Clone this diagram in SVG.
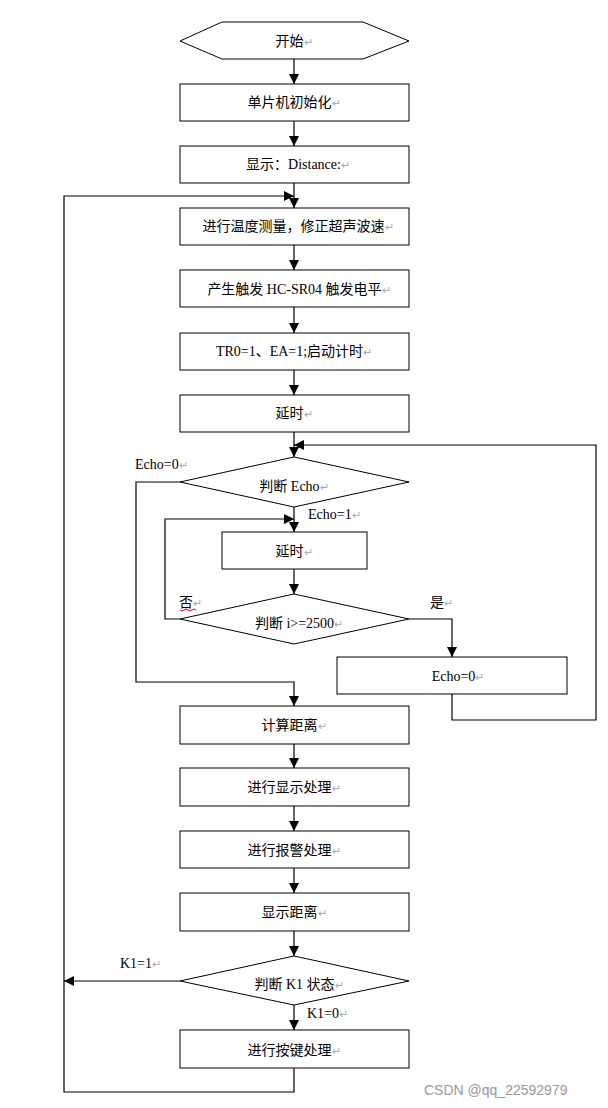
<svg xmlns="http://www.w3.org/2000/svg" width="608" height="1108" viewBox="0 0 608 1108">
<style>
.s{fill:#fff;stroke:#000;stroke-width:1}
.c{fill:none;stroke:#000;stroke-width:1.2}
.t{font-family:"Liberation Serif","Noto Sans CJK SC",serif;font-size:14px;fill:#000}
.m{text-anchor:middle}
.r{fill:#aaa;font-size:11px}
.w{font-family:"Liberation Sans",Arial,sans-serif;font-size:14px;fill:#999}
</style>
<defs>
<marker id="a" viewBox="0 0 10 10" refX="10" refY="5" markerWidth="10" markerHeight="10" markerUnits="userSpaceOnUse" orient="auto"><path d="M0,0 L10,5 L0,10 Z" fill="#000"/></marker>
</defs>
<rect width="608" height="1108" fill="#fff"/>
<g id="connectors">
<path class="c" d="M294,59 V84" marker-end="url(#a)"/>
<path class="c" d="M294,121 V146" marker-end="url(#a)"/>
<path class="c" d="M294,183 V208" marker-end="url(#a)"/>
<path class="c" d="M294,245 V270" marker-end="url(#a)"/>
<path class="c" d="M294,307 V333" marker-end="url(#a)"/>
<path class="c" d="M294,370 V395" marker-end="url(#a)"/>
<path class="c" d="M294,432 V457" marker-end="url(#a)"/>
<path class="c" d="M294,507 V532" marker-end="url(#a)"/>
<path class="c" d="M294,569 V594" marker-end="url(#a)"/>
<path class="c" d="M180,619 H165 V519 H294" marker-end="url(#a)"/>
<path class="c" d="M409,619 H452 V657" marker-end="url(#a)"/>
<path class="c" d="M452,694 V720 H596 V445 H294" marker-end="url(#a)"/>
<path class="c" d="M180,482 H136 V682 H294 V706" marker-end="url(#a)"/>
<path class="c" d="M294,744 V768" marker-end="url(#a)"/>
<path class="c" d="M294,806 V831" marker-end="url(#a)"/>
<path class="c" d="M294,868 V893" marker-end="url(#a)"/>
<path class="c" d="M294,931 V956" marker-end="url(#a)"/>
<path class="c" d="M180,981 H64" marker-end="url(#a)"/>
<path class="c" d="M294,1005 V1030" marker-end="url(#a)"/>
<path class="c" d="M294,1068 V1092 H64 V196 H294" marker-end="url(#a)"/>
</g>
<g id="start"><polygon class="s" points="180,41 222,22 363,22 409,41 363,59 222,59"/><text class="t m" x="294" y="46">开始<tspan class="r">↵</tspan></text></g>
<g id="init"><rect class="s" x="180" y="84" width="229" height="37"/><text class="t m" x="294" y="107">单片机初始化<tspan class="r">↵</tspan></text></g>
<g id="show"><rect class="s" x="180" y="146" width="229" height="37"/><text class="t m" x="298" y="169">显示：Distance:<tspan class="r">↵</tspan></text></g>
<g id="temp"><rect class="s" x="180" y="208" width="229" height="37"/><text class="t m" x="298" y="231">进行温度测量，修正超声波速<tspan class="r">↵</tspan></text></g>
<g id="trig"><rect class="s" x="180" y="270" width="229" height="37"/><text class="t m" x="299" y="294">产生触发 HC-SR04 触发电平<tspan class="r">↵</tspan></text></g>
<g id="tr0"><rect class="s" x="180" y="333" width="229" height="37"/><text class="t m" x="294" y="356">TR0=1、EA=1;启动计时<tspan class="r">↵</tspan></text></g>
<g id="delay1"><rect class="s" x="180" y="395" width="229" height="37"/><text class="t m" x="294" y="418">延时<tspan class="r">↵</tspan></text></g>
<g id="echo"><polygon class="s" points="294,457 409,482 294,507 180,482"/><text class="t m" x="294" y="491">判断 Echo<tspan class="r">↵</tspan></text></g>
<g id="delay2"><rect class="s" x="222" y="532" width="145" height="37"/><text class="t m" x="294" y="556">延时<tspan class="r">↵</tspan></text></g>
<g id="cnt"><polygon class="s" points="294,594 409,619 294,644 180,619"/><text class="t m" x="299" y="628">判断 i&gt;=2500<tspan class="r">↵</tspan></text></g>
<g id="echo0"><rect class="s" x="337" y="657" width="230" height="37"/><text class="t m" x="458" y="681">Echo=0<tspan class="r">↵</tspan></text></g>
<g id="calc"><rect class="s" x="180" y="706" width="229" height="38"/><text class="t m" x="294" y="730">计算距离<tspan class="r">↵</tspan></text></g>
<g id="disp"><rect class="s" x="180" y="768" width="229" height="38"/><text class="t m" x="294" y="792">进行显示处理<tspan class="r">↵</tspan></text></g>
<g id="alarm"><rect class="s" x="180" y="831" width="229" height="37"/><text class="t m" x="294" y="855">进行报警处理<tspan class="r">↵</tspan></text></g>
<g id="showd"><rect class="s" x="180" y="893" width="229" height="38"/><text class="t m" x="294" y="917">显示距离<tspan class="r">↵</tspan></text></g>
<g id="k1"><polygon class="s" points="294,956 409,981 294,1005 180,981"/><text class="t m" x="299" y="989">判断 K1 状态<tspan class="r">↵</tspan></text></g>
<g id="key"><rect class="s" x="180" y="1030" width="229" height="38"/><text class="t m" x="294" y="1055">进行按键处理<tspan class="r">↵</tspan></text></g>
<g id="labels">
<text class="t" x="135" y="469">Echo=0<tspan class="r">↵</tspan></text>
<text class="t" x="308" y="519">Echo=1<tspan class="r">↵</tspan></text>
<text class="t" x="179" y="607">否<tspan class="r">↵</tspan></text>
<path d="M180,610 q2,2 4,0 t4,0 t4,0 t4,0" fill="none" stroke="#d00" stroke-width="1"/>
<text class="t" x="430" y="607">是<tspan class="r">↵</tspan></text>
<text class="t" x="120" y="968">K1=1<tspan class="r">↵</tspan></text>
<text class="t" x="307" y="1018">K1=0<tspan class="r">↵</tspan></text>
</g>
<text class="w" x="424" y="1095">CSDN @qq_22592979</text>
</svg>
